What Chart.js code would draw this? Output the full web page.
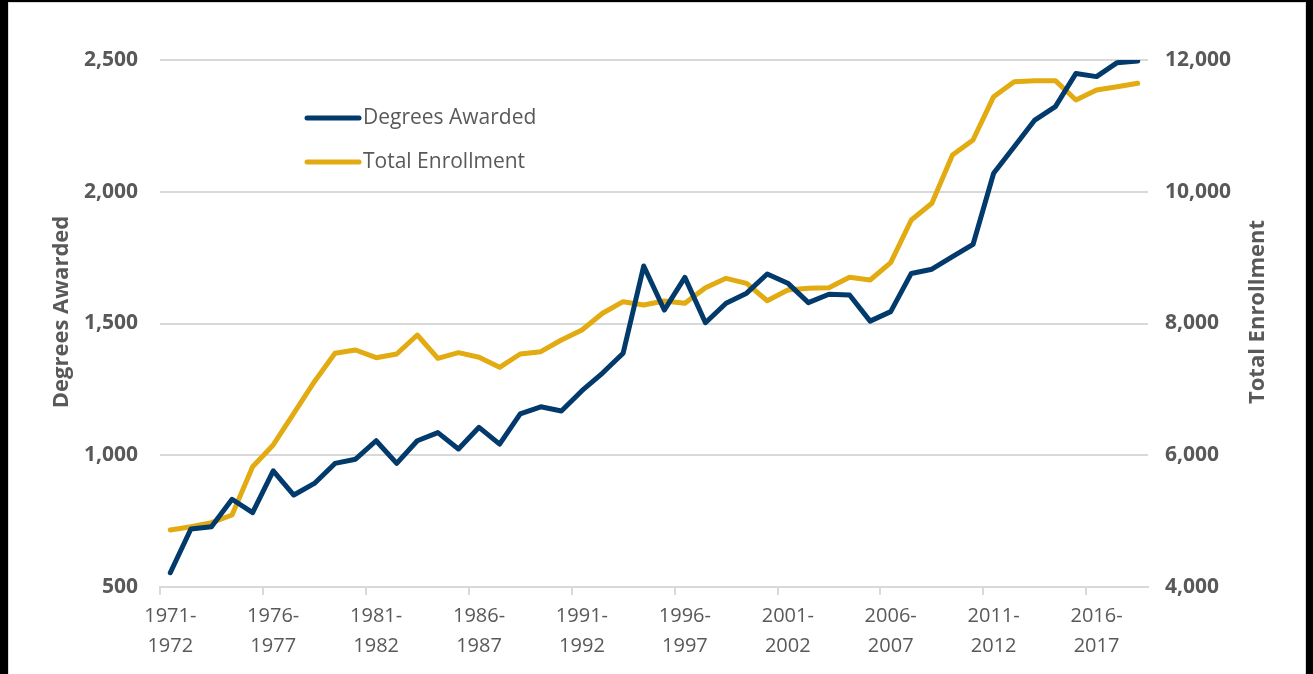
<!DOCTYPE html>
<html>
<head>
<meta charset="utf-8">
<script src="https://cdn.jsdelivr.net/npm/chart.js@4.4.1/dist/chart.umd.min.js"></script>
<style>
  html, body { margin: 0; padding: 0; background: #000; width: 1313px; height: 674px; overflow: hidden; }
  #frame {
    position: absolute; left: 8px; top: 2px;
    width: 1296px; height: 680px;
    background: #fff; border: 1px solid #d9d9d9;
  }
  #chart { display: block; }
</style>
</head>
<body>
<div id="frame">
  <canvas id="chart" width="1296" height="671"></canvas>
</div>
<script>
// 학년도 (1971-1972 ~ 2018-2019)
const years = [];
for (let y = 1971; y <= 2018; y++) years.push(`${y}-${y + 1}`);

// 학위 수여 (왼쪽 축)
const degreesAwarded = [
  554, 720, 729, 833, 782, 941, 849, 893, 969, 985,
  1055, 969, 1055, 1086, 1024, 1106, 1042, 1157, 1184, 1168,
  1245, 1312, 1387, 1718, 1551, 1675, 1503, 1577, 1615, 1688,
  1653, 1579, 1611, 1608, 1509, 1545, 1690, 1706, 1754, 1800,
  2070, 2171, 2272, 2323, 2449, 2437, 2490, 2496
];

// 전체 등록 (오른쪽 축)
const totalEnrollment = [
  4865, 4915, 4976, 5093, 5826, 6156, 6637, 7117, 7547, 7598,
  7481, 7537, 7825, 7471, 7557, 7487, 7335, 7537, 7572, 7749,
  7901, 8155, 8331, 8281, 8342, 8307, 8544, 8686, 8610, 8345,
  8508, 8534, 8544, 8701, 8660, 8923, 9571, 9825, 10558, 10785,
  11443, 11671, 11686, 11686, 11393, 11544, 11595, 11646
];

const NAVY = '#023a6b';
const GOLD = '#e2ab12';
const GRID = '#d9d9d9';
const TEXT = '#595959';
const FONT = "'Open Sans', 'Liberation Sans', sans-serif";

// 축 제목 + 범례 (차트 영역 안쪽)
const decorPlugin = {
  id: 'decor',
  afterDraw(chart) {
    const ctx = chart.ctx;
    const area = chart.chartArea;
    ctx.save();
    ctx.fillStyle = TEXT;
    ctx.font = `bold 22px ${FONT}`;
    ctx.textAlign = 'center';
    ctx.textBaseline = 'middle';
    [[53, 'Degrees Awarded'], [1249, 'Total Enrollment']].forEach(([x, t]) => {
      ctx.save();
      ctx.translate(x, 309);
      ctx.rotate(-Math.PI / 2);
      ctx.fillText(t, 0, 0);
      ctx.restore();
    });

    // 범례
    ctx.font = `21px ${FONT}`;
    ctx.textAlign = 'left';
    chart.data.datasets.forEach((ds, i) => {
      const y = area.top + 58 + i * 44;
      const x0 = area.left + 147;
      ctx.strokeStyle = ds.borderColor;
      ctx.lineWidth = 5;
      ctx.lineCap = 'round';
      ctx.beginPath();
      ctx.moveTo(x0, y);
      ctx.lineTo(x0 + 52, y);
      ctx.stroke();
      ctx.fillStyle = TEXT;
      ctx.fillText(ds.label, x0 + 56, y);
    });
    ctx.restore();
  }
};

new Chart(document.getElementById('chart'), {
  type: 'line',
  data: {
    labels: years,
    datasets: [
      {
        label: 'Degrees Awarded',
        data: degreesAwarded,
        yAxisID: 'y',
        borderColor: NAVY,
        backgroundColor: NAVY,
        borderWidth: 5,
        pointRadius: 0,
        tension: 0,
        borderJoinStyle: 'round',
        borderCapStyle: 'round'
      },
      {
        label: 'Total Enrollment',
        data: totalEnrollment,
        yAxisID: 'y1',
        borderColor: GOLD,
        backgroundColor: GOLD,
        borderWidth: 5,
        pointRadius: 0,
        tension: 0,
        borderJoinStyle: 'round',
        borderCapStyle: 'round'
      }
    ]
  },
  options: {
    responsive: false,
    animation: false,
    layout: { padding: { top: 57, left: 0, right: 0, bottom: 0 } },
    plugins: {
      legend: { display: false },
      tooltip: { enabled: false }
    },
    scales: {
      x: {
        type: 'category',
        offset: true,
        afterFit: (s) => { s.height = 87; },
        border: { color: GRID, width: 2 },
        grid: {
          offset: true,
          drawOnChartArea: false,
          tickLength: 8,
          lineWidth: 2,
          color: (c) => (c.index !== undefined && c.index % 5 === 0) ? GRID : 'rgba(0,0,0,0)'
        },
        ticks: {
          autoSkip: false,
          maxRotation: 0,
          minRotation: 0,
          padding: 6,
          color: TEXT,
          font: { family: FONT, size: 20, lineHeight: 1.5 },
          callback: function (v, i) {
            if (i % 5 !== 0) return '';
            const parts = this.getLabelForValue(v).split('-');
            return [parts[0] + '-', parts[1]];
          }
        }
      },
      y: {
        position: 'left',
        min: 500,
        max: 2500,
        afterFit: (s) => { s.width = 151; },
        border: { display: false },
        grid: { color: GRID, lineWidth: 2, drawTicks: false },
        ticks: {
          stepSize: 500,
          padding: 22,
          color: TEXT,
          font: { family: FONT, size: 21, weight: 'bold' },
          callback: (v) => v.toLocaleString('en-US')
        }
      },
      y1: {
        position: 'right',
        min: 4000,
        max: 12000,
        afterFit: (s) => { s.width = 157; },
        border: { display: false },
        grid: { drawOnChartArea: false, drawTicks: false },
        ticks: {
          stepSize: 2000,
          padding: 17,
          color: TEXT,
          font: { family: FONT, size: 21, weight: 'bold' },
          callback: (v) => v.toLocaleString('en-US')
        }
      }
    }
  },
  plugins: [decorPlugin]
});
</script>
</body>
</html>
